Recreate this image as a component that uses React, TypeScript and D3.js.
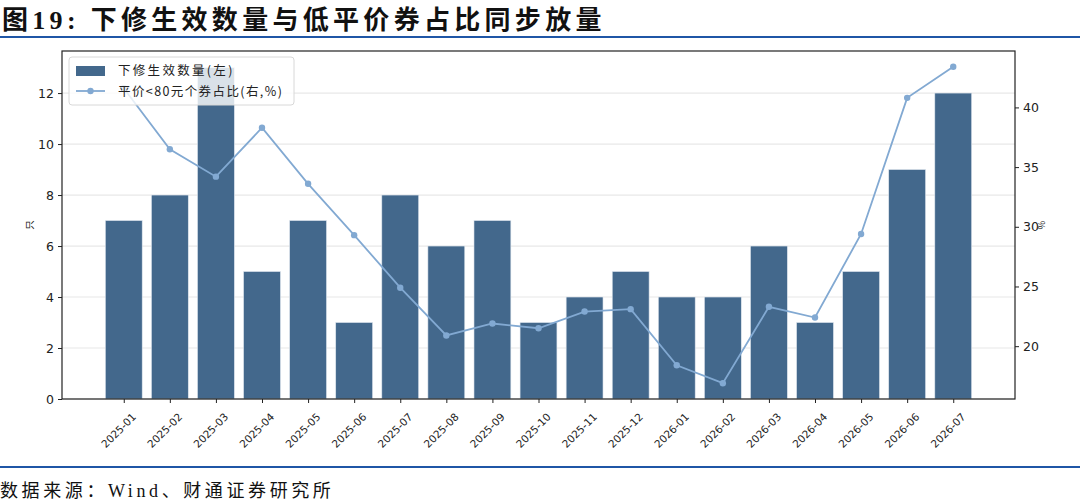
import React, { useRef, useEffect } from "react";
import * as d3 from "d3";

// months on the x axis
const months = [
  "2025-01", "2025-02", "2025-03", "2025-04", "2025-05", "2025-06", "2025-07",
  "2025-08", "2025-09", "2025-10", "2025-11", "2025-12", "2026-01", "2026-02",
  "2026-03", "2026-04", "2026-05", "2026-06", "2026-07",
];
// 下修生效数量 (left axis, 只)
const downCount = [7, 8, 13, 5, 7, 3, 8, 6, 7, 3, 4, 5, 4, 4, 6, 3, 5, 9, 12];
// 平价<80元个券占比 (right axis, %)
const lowParityShare = [
  41.6, 36.5, 34.2, 38.3, 33.6, 29.3, 24.9, 20.9, 21.9, 21.5, 22.9, 23.1,
  18.4, 16.9, 23.3, 22.4, 29.4, 40.8, 43.4,
];
const leftTicks = [0, 2, 4, 6, 8, 10, 12];
const rightTicks = [20, 25, 30, 35, 40];

const App: React.FC = () => {
  const ref = useRef<SVGSVGElement | null>(null);

  useEffect(() => {
    if (!ref.current) return;
    const svg = d3.select(ref.current);
    svg.selectAll("*").remove();

    const W = 1080;
    const H = 503;
    const plot = { left: 62, right: 1015, top: 51, bottom: 399 };
    const barColor = "#43688c";
    const lineColor = "#82a9d2";
    const tickFont = "'DejaVu Sans', sans-serif";
    const cjkFont = "'Noto Sans CJK SC', sans-serif";

    svg.append("rect").attr("width", W).attr("height", H).attr("fill", "#fff");

    // title + rules
    svg
      .append("text")
      .attr("x", 2)
      .attr("y", 29)
      .attr("font-family", "'Liberation Serif', 'Noto Sans CJK SC', serif")
      .attr("font-weight", "bold")
      .attr("font-size", 26)
      .attr("letter-spacing", 4.3)
      .attr("fill", "#111")
      .text("图19: 下修生效数量与低平价券占比同步放量");
    svg.append("rect").attr("x", 0).attr("y", 36).attr("width", W).attr("height", 2).attr("fill", "#1f56a6");
    svg.append("rect").attr("x", 0).attr("y", 466).attr("width", W).attr("height", 2).attr("fill", "#1f56a6");
    svg
      .append("text")
      .attr("x", 0)
      .attr("y", 497)
      .attr("font-family", "'Liberation Serif', 'Noto Sans CJK SC', serif")
      .attr("font-size", 18)
      .attr("letter-spacing", 3.6)
      .attr("fill", "#111")
      .text("数据来源：Wind、财通证券研究所");

    // scales
    const x = d3
      .scaleLinear()
      .domain([-1.34, months.length - 1 + 1.34])
      .range([plot.left, plot.right]);
    const bandW = x(0.8) - x(0);
    const yL = d3.scaleLinear().domain([0, 13 * 1.05]).range([plot.bottom, plot.top]);
    const lo = d3.min(lowParityShare)!;
    const hi = d3.max(lowParityShare)!;
    const pad = (hi - lo) * 0.05;
    const yR = d3.scaleLinear().domain([lo - pad, hi + pad]).range([plot.bottom, plot.top]);

    // grid
    svg
      .append("g")
      .selectAll("line")
      .data(leftTicks)
      .enter()
      .append("line")
      .attr("x1", plot.left)
      .attr("x2", plot.right)
      .attr("y1", (d) => yL(d))
      .attr("y2", (d) => yL(d))
      .attr("stroke", "#e8e8e8")
      .attr("stroke-width", 1.2);

    // bars
    svg
      .append("g")
      .selectAll("rect")
      .data(downCount)
      .enter()
      .append("rect")
      .attr("x", (_, i) => x(i) - bandW / 2)
      .attr("y", (d) => yL(d))
      .attr("width", bandW)
      .attr("height", (d) => yL(0) - yL(d))
      .attr("fill", barColor)
      .attr("stroke", "#dfe6ee")
      .attr("stroke-width", 0.6);

    // line
    const line = d3
      .line<number>()
      .x((_, i) => x(i))
      .y((d) => yR(d));
    svg
      .append("path")
      .datum(lowParityShare)
      .attr("d", line)
      .attr("fill", "none")
      .attr("stroke", lineColor)
      .attr("stroke-width", 1.8);
    svg
      .append("g")
      .selectAll("circle")
      .data(lowParityShare)
      .enter()
      .append("circle")
      .attr("cx", (_, i) => x(i))
      .attr("cy", (d) => yR(d))
      .attr("r", 3.2)
      .attr("fill", lineColor);

    // frame
    svg
      .append("rect")
      .attr("x", plot.left)
      .attr("y", plot.top)
      .attr("width", plot.right - plot.left)
      .attr("height", plot.bottom - plot.top)
      .attr("fill", "none")
      .attr("stroke", "#222")
      .attr("stroke-width", 1.2);

    // left axis
    const gL = svg.append("g").attr("transform", `translate(${plot.left},0)`);
    gL.call(d3.axisLeft(yL).tickValues(leftTicks).tickSize(4).tickPadding(4));
    gL.select(".domain").remove();
    gL.selectAll("line").attr("stroke", "#222");
    gL.selectAll("text").attr("font-family", tickFont).attr("font-size", 12.5).attr("fill", "#222");

    // right axis
    const gR = svg.append("g").attr("transform", `translate(${plot.right},0)`);
    gR.call(d3.axisRight(yR).tickValues(rightTicks).tickSize(4).tickPadding(4));
    gR.select(".domain").remove();
    gR.selectAll("line").attr("stroke", "#222");
    gR.selectAll("text").attr("font-family", tickFont).attr("font-size", 12.5).attr("fill", "#222");

    // bottom axis
    const gB = svg.append("g").attr("transform", `translate(0,${plot.bottom})`);
    gB.call(
      d3
        .axisBottom(x)
        .tickValues(d3.range(months.length))
        .tickFormat((d) => months[d as number])
        .tickSize(4)
    );
    gB.select(".domain").remove();
    gB.selectAll("line").attr("stroke", "#222");
    gB.selectAll("text")
      .attr("font-family", tickFont)
      .attr("font-size", 10.5)
      .attr("fill", "#222")
      .attr("text-anchor", "end")
      .attr("dy", "0.35em")
      .attr("transform", "translate(5,11) rotate(-45)");

    // axis titles
    svg
      .append("text")
      .attr("transform", `translate(33,${(plot.top + plot.bottom) / 2}) rotate(-90)`)
      .attr("text-anchor", "middle")
      .attr("font-family", cjkFont)
      .attr("font-size", 9.5)
      .attr("fill", "#222")
      .text("只");
    svg
      .append("text")
      .attr("transform", `translate(1045,${(plot.top + plot.bottom) / 2}) rotate(-90)`)
      .attr("text-anchor", "middle")
      .attr("font-family", cjkFont)
      .attr("font-size", 9.5)
      .attr("fill", "#222")
      .text("%");

    // legend
    const lg = svg.append("g");
    lg.append("rect")
      .attr("x", 69)
      .attr("y", 57)
      .attr("width", 225)
      .attr("height", 48)
      .attr("rx", 3)
      .attr("fill", "#fff")
      .attr("fill-opacity", 0.8)
      .attr("stroke", "#d8d8d8");
    lg.append("rect").attr("x", 76).attr("y", 66).attr("width", 29).attr("height", 10).attr("fill", barColor);
    lg.append("line").attr("x1", 76).attr("x2", 105).attr("y1", 91).attr("y2", 91).attr("stroke", lineColor).attr("stroke-width", 1.8);
    lg.append("circle").attr("cx", 90.5).attr("cy", 91).attr("r", 3.2).attr("fill", lineColor);
    lg.append("text")
      .attr("x", 118)
      .attr("y", 75)
      .attr("font-family", cjkFont)
      .attr("font-size", 12.5)
      .attr("letter-spacing", 2.3)
      .attr("fill", "#222")
      .text("下修生效数量(左)");
    lg.append("text")
      .attr("x", 118)
      .attr("y", 96)
      .attr("font-family", cjkFont)
      .attr("font-size", 12.5)
      .attr("letter-spacing", 1.4)
      .attr("fill", "#222")
      .text("平价<80元个券占比(右,%)");
  }, []);

  return (
    <svg
      ref={ref}
      width={1080}
      height={503}
      style={{ position: "absolute", left: 0, top: 0 }}
    />
  );
};

export default App;
